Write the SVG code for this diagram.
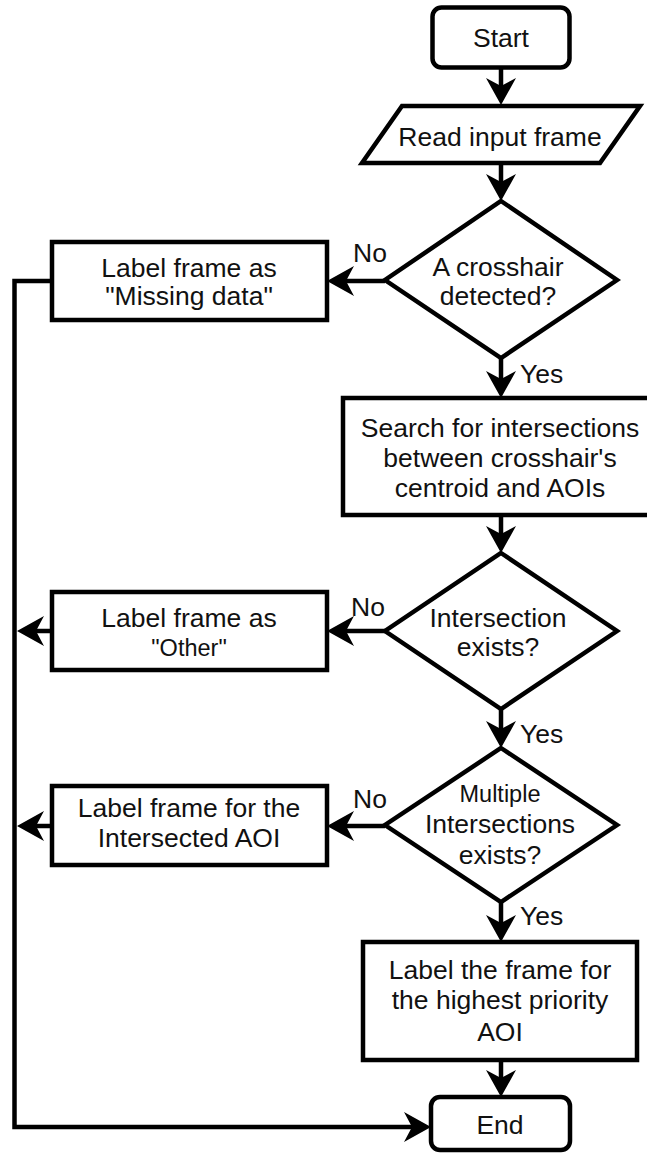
<svg xmlns="http://www.w3.org/2000/svg" width="647" height="1157" viewBox="0 0 647 1157">
<style>
.n{fill:#fff;stroke:#000;stroke-width:4.5}
.c{fill:none;stroke:#000;stroke-width:4.5}
text{font-family:"Liberation Sans",Arial,Helvetica,sans-serif;font-size:26.5px;fill:#111;text-anchor:middle}
.s{font-size:23.5px}
.l{text-anchor:start}
</style>
<defs>
<marker id="a" markerUnits="userSpaceOnUse" markerWidth="28" markerHeight="30" refX="8" refY="15" orient="auto" overflow="visible">
<path d="M0,0 L27,15 L0,30 L8,15 Z" fill="#000"/>
</marker>
</defs>
<rect width="647" height="1157" fill="#fff"/>
<g id="connectors">
<path class="c" d="M501,68 V86" marker-end="url(#a)"/>
<path class="c" d="M501,163 V182" marker-end="url(#a)"/>
<path class="c" d="M385,281 H346" marker-end="url(#a)"/>
<path class="c" d="M501,358 V379" marker-end="url(#a)"/>
<path class="c" d="M501,515 V534" marker-end="url(#a)"/>
<path class="c" d="M385,631 H346" marker-end="url(#a)"/>
<path class="c" d="M501,709 V729" marker-end="url(#a)"/>
<path class="c" d="M385,826 H346" marker-end="url(#a)"/>
<path class="c" d="M501,902 V923" marker-end="url(#a)"/>
<path class="c" d="M501,1060 V1078" marker-end="url(#a)"/>
<path class="c" d="M52,631 H36" marker-end="url(#a)"/>
<path class="c" d="M52,826 H36" marker-end="url(#a)"/>
<path class="c" d="M52,281 H14.5 V1127 H412" marker-end="url(#a)"/>
<text class="l" x="353" y="262">No</text>
<text class="l" x="351" y="616">No</text>
<text class="l" x="353" y="808">No</text>
<text class="l" x="520" y="383">Yes</text>
<text class="l" x="520" y="743">Yes</text>
<text class="l" x="520" y="925">Yes</text>
</g>
<g id="start">
<rect class="n" x="432.5" y="7.5" width="137" height="60" rx="9"/>
<text x="501" y="47">Start</text>
</g>
<g id="read">
<path class="n" d="M402,106 H640 L600,163 H362 Z"/>
<text x="500" y="146">Read input frame</text>
</g>
<g id="d1">
<path class="n" d="M501,201 L617,280 L501,358 L385,280 Z"/>
<text x="498" y="276">A crosshair</text>
<text x="498" y="305">detected?</text>
</g>
<g id="missing">
<rect class="n" x="52" y="242" width="275" height="78"/>
<text x="189" y="277">Label frame as</text>
<text x="189" y="305">"Missing data"</text>
</g>
<g id="search">
<rect class="n" x="343" y="398" width="316" height="117"/>
<text x="500" y="437">Search for intersections</text>
<text x="500" y="467">between crosshair's</text>
<text x="500" y="497">centroid and AOIs</text>
</g>
<g id="d2">
<path class="n" d="M501,553 L617,631 L501,709 L385,631 Z"/>
<text x="498" y="627">Intersection</text>
<text x="498" y="656">exists?</text>
</g>
<g id="other">
<rect class="n" x="52" y="592" width="275" height="78"/>
<text x="189" y="627">Label frame as</text>
<text class="s" x="189" y="656">"Other"</text>
</g>
<g id="d3">
<path class="n" d="M501,748 L617,825 L501,902 L385,825 Z"/>
<text class="s" x="500" y="802">Multiple</text>
<text x="500" y="833">Intersections</text>
<text x="500" y="864">exists?</text>
</g>
<g id="intersected">
<rect class="n" x="52" y="786" width="275" height="79"/>
<text x="189" y="817">Label frame for the</text>
<text x="189" y="847">Intersected AOI</text>
</g>
<g id="highest">
<rect class="n" x="363" y="942" width="274" height="118"/>
<text x="500" y="979">Label the frame for</text>
<text x="500" y="1009">the highest priority</text>
<text x="500" y="1041">AOI</text>
</g>
<g id="end">
<rect class="n" x="431" y="1097" width="139" height="53" rx="9"/>
<text x="500" y="1134">End</text>
</g>
</svg>
